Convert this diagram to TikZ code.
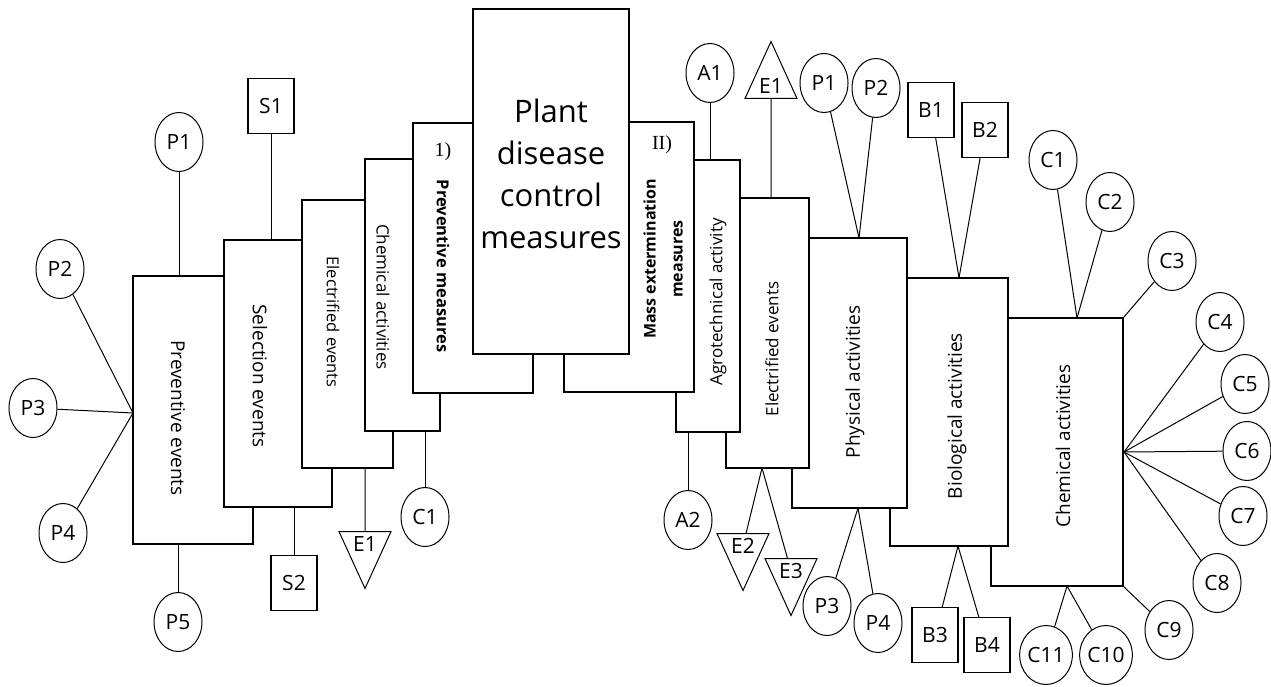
\documentclass[tikz,border=0pt]{standalone}
\usepackage{fontspec}
\setmainfont{Open Sans}
\newfontfamily\romfont{Liberation Serif}
\usepackage{tikz}
\usetikzlibrary{shapes.geometric}

\tikzset{
  blk/.style={draw, fill=white, line width=1.1pt, inner sep=0pt},
  lbl/.style={inner sep=0pt, font=\fontsize{19}{23}\selectfont},
  circ/.style={draw, ellipse, line width=1pt, minimum width=48pt, minimum height=59pt, inner sep=0pt, font=\fontsize{21}{24}\selectfont},
  sq/.style={draw, line width=1.1pt, minimum width=46pt, minimum height=55pt, inner sep=0pt, font=\fontsize{21}{24}\selectfont},
  tri/.style={draw, line width=1pt, isosceles triangle, isosceles triangle stretches, minimum width=52pt, minimum height=57pt, inner sep=0pt, anchor=lower side, font=\fontsize{21}{24}\selectfont},
  link/.style={line width=1pt}
}

\begin{document}
\begin{tikzpicture}[x=1pt,y=-1pt]
  \fill[white] (0,0) rectangle (1271,687);
  \useasboundingbox (0,0) rectangle (1271,687);

  % left branch, outer boxes first
  \node[blk, minimum width=120pt, minimum height=268pt] (prev) at (193,410) {};
  \node[blk, minimum width=108pt, minimum height=267pt] (sel) at (278,373.5) {};
  \node[blk, minimum width=91pt, minimum height=268pt] (elecL) at (347.5,334) {};
  \node[blk, minimum width=75pt, minimum height=272pt] (chemL) at (402.5,295) {};
  \node[blk, minimum width=120pt, minimum height=270pt] (premeas) at (473,258) {};

  % right branch, outer boxes first
  \node[blk, minimum width=132pt, minimum height=268pt] (chemR) at (1057,452) {};
  \node[blk, minimum width=118pt, minimum height=268pt] (bio) at (949,412) {};
  \node[blk, minimum width=115pt, minimum height=270pt] (phys) at (849.5,373) {};
  \node[blk, minimum width=83pt, minimum height=270pt] (elecR) at (767.5,333) {};
  \node[blk, minimum width=64pt, minimum height=272pt] (agro) at (708,296) {};
  \node[blk, minimum width=130pt, minimum height=270pt] (mass) at (629,257) {};

  % main box
  \node[blk, minimum width=156pt, minimum height=345pt] (main) at (551,181.5) {};
  \node[align=center, font=\fontsize{31}{42}\selectfont] (maintxt) at (551,174) {Plant\\disease\\control\\measures};

  % box labels
  \node[lbl, rotate=-90] (prevtxt) at (178,418) {Preventive events};
  \node[lbl, rotate=-90] (seltxt) at (260,376) {Selection events};
  \node[lbl, rotate=-90, font=\fontsize{16.5}{20}\selectfont] (elecLtxt) at (333,322) {Electrified events};
  \node[lbl, rotate=-90, font=\fontsize{17}{20}\selectfont] (chemLtxt) at (383,297) {Chemical activities};
  \node[lbl, rotate=-90, font=\fontsize{16.5}{20}\selectfont\bfseries] (premtxt) at (443,266) {Preventive measures};
  \node[inner sep=0pt, font=\fontsize{20}{24}\romfont] (num1) at (443,152) {1)};
  \node[lbl, rotate=90, align=center, font=\fontsize{16}{27}\selectfont\bfseries] (masstxt) at (663,259) {Mass extermination\\measures};
  \node[inner sep=0pt, font=\fontsize{20}{24}\romfont] (num2) at (662,145) {II)};
  \node[lbl, rotate=90, font=\fontsize{17}{20}\selectfont] (agrotxt) at (718,302) {Agrotechnical activity};
  \node[lbl, rotate=90, font=\fontsize{17}{20}\selectfont] (elecRtxt) at (772,349) {Electrified events};
  \node[lbl, rotate=90] (phystxt) at (855,382) {Physical activities};
  \node[lbl, rotate=90] (biotxt) at (957,416) {Biological activities};
  \node[lbl, rotate=90] (chemRtxt) at (1063,446) {Chemical activities};

  % left elements
  \node[circ] (P1) at (179,142) {P1};
  \node[circ] (P2) at (60,269) {P2};
  \node[circ] (P3) at (33,408) {P3};
  \node[circ] (P4) at (63,533) {P4};
  \node[circ] (P5) at (178,622) {P5};
  \node[sq] (S1) at (271,106) {S1};
  \node[sq] (S2) at (294,583) {S2};
  \node[tri, shape border rotate=-90] (E1) at (365,531) {E1};
  \node[circ] (C1) at (425,517) {C1};
  \coordinate (hubL) at (133,413);

  \draw[link] (P1) -- (P1 |- prev.north);
  \draw[link] (P2) -- (hubL);
  \draw[link] (P3) -- (hubL);
  \draw[link] (P4) -- (hubL);
  \draw[link] (P5) -- (P5 |- prev.south);
  \draw[link] (S1) -- (S1 |- sel.north);
  \draw[link] (S2) -- (S2 |- sel.south);
  \draw[link] (E1) -- (E1 |- elecL.south);
  \draw[link] (C1) -- (C1 |- chemL.south);

  % right elements
  \node[circ] (A1) at (710,73) {A1};
  \node[tri, shape border rotate=90] (RE1) at (771,99) {E1};
  \node[circ] (RP1) at (824,83) {P1};
  \node[circ] (RP2) at (876,88) {P2};
  \node[sq] (B1) at (931,110) {B1};
  \node[sq] (B2) at (985,130) {B2};
  \node[circ] (RC1) at (1053,160) {C1};
  \node[circ] (RC2) at (1110,202) {C2};
  \node[circ] (RC3) at (1172,261) {C3};
  \node[circ] (RC4) at (1220,322) {C4};
  \node[circ] (RC5) at (1245,384) {C5};
  \node[circ] (RC6) at (1247,451) {C6};
  \node[circ] (RC7) at (1243,516) {C7};
  \node[circ] (RC8) at (1217,583) {C8};
  \node[circ] (RC9) at (1169,630) {C9};
  \node[circ] (RC10) at (1106,655) {C10};
  \node[circ] (RC11) at (1046,655) {C11};
  \node[sq] (B3) at (935,635) {B3};
  \node[sq] (B4) at (987,645) {B4};
  \node[circ] (RP3) at (827,606) {P3};
  \node[circ] (RP4) at (878,623) {P4};
  \node[tri, shape border rotate=-90] (E2) at (743,533) {E2};
  \node[tri, shape border rotate=-90] (E3) at (791,558) {E3};
  \node[circ] (A2) at (688,520) {A2};

  \coordinate (hubP) at (859,238);
  \coordinate (hubB) at (959,278);
  \coordinate (hubC) at (1077,318);
  \coordinate (hubC2) at (1124,452);
  \coordinate (hubC3) at (1067,586);
  \coordinate (hubB2) at (958,546);
  \coordinate (hubP2) at (858,508);
  \coordinate (hubE) at (762,468);

  \draw[link] (A1) -- (A1 |- agro.north);
  \draw[link] (RE1) -- (RE1 |- elecR.north);
  \draw[link] (RP1) -- (hubP);
  \draw[link] (RP2) -- (hubP);
  \draw[link] (B1) -- (hubB);
  \draw[link] (B2) -- (hubB);
  \draw[link] (RC1) -- (hubC);
  \draw[link] (RC2) -- (hubC);
  \draw[link] (RC3) -- (chemR.north east);
  \draw[link] (RC4) -- (hubC2);
  \draw[link] (RC5) -- (hubC2);
  \draw[link] (RC6) -- (hubC2);
  \draw[link] (RC7) -- (hubC2);
  \draw[link] (RC8) -- (hubC2);
  \draw[link] (RC9) -- (chemR.south east);
  \draw[link] (RC10) -- (hubC3);
  \draw[link] (RC11) -- (hubC3);
  \draw[link] (B3) -- (hubB2);
  \draw[link] (B4) -- (hubB2);
  \draw[link] (RP3) -- (hubP2);
  \draw[link] (RP4) -- (hubP2);
  \draw[link] (E2) -- (hubE);
  \draw[link] (E3) -- (hubE);
  \draw[link] (A2) -- (A2 |- agro.south);
\end{tikzpicture}
\end{document}
